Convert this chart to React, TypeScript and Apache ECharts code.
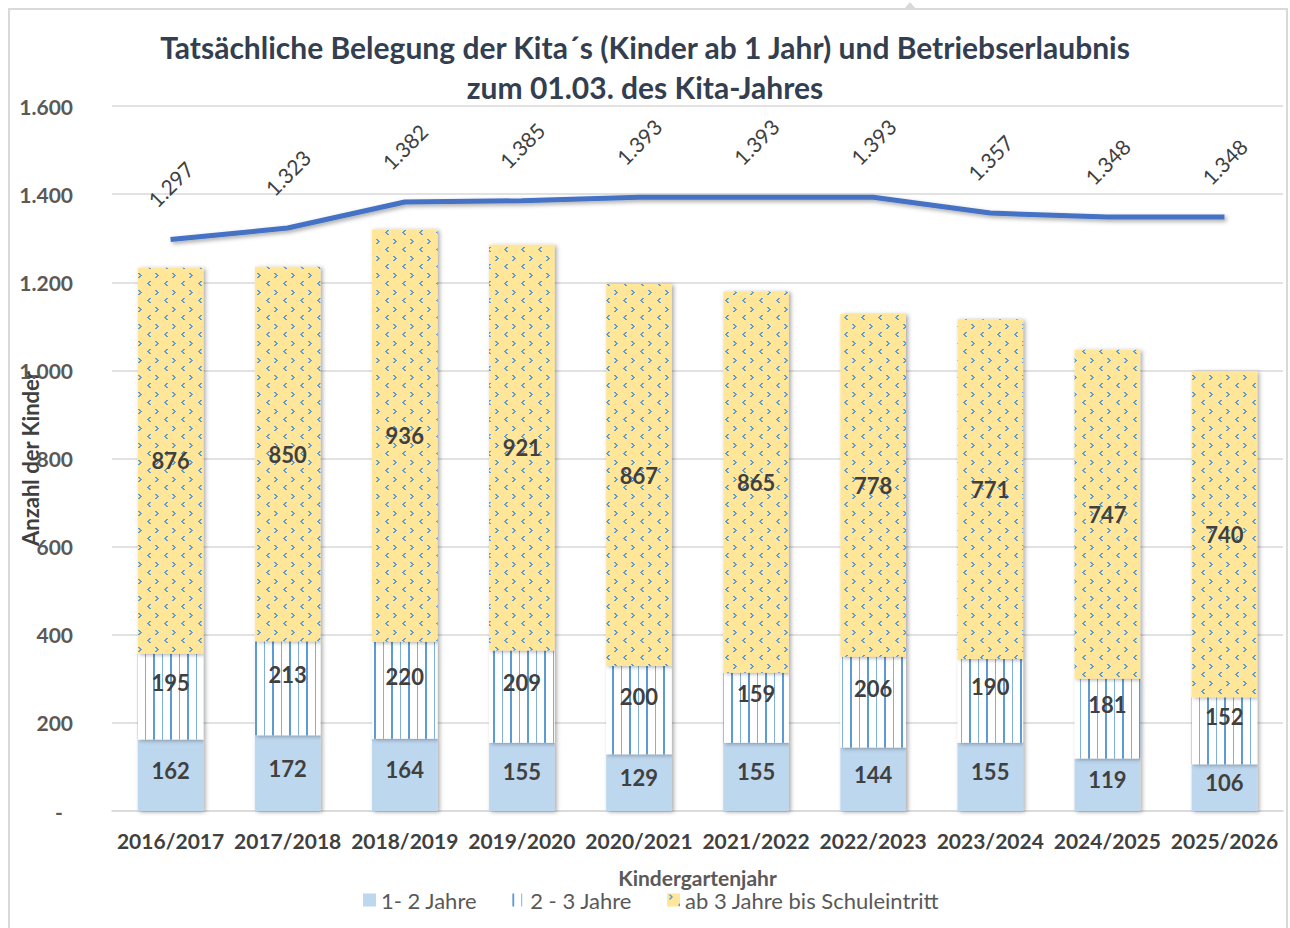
import React, { useEffect, useRef } from "react";
import * as echarts from "echarts";

const categories = [
  "2016/2017", "2017/2018", "2018/2019", "2019/2020", "2020/2021",
  "2021/2022", "2022/2023", "2023/2024", "2024/2025", "2025/2026",
];
const einsBisZwei = [162, 172, 164, 155, 129, 155, 144, 155, 119, 106];
const zweiBisDrei = [195, 213, 220, 209, 200, 159, 206, 190, 181, 152];
const abDrei = [876, 850, 936, 921, 867, 865, 778, 771, 747, 740];
const betriebserlaubnis = [1297, 1323, 1382, 1385, 1393, 1393, 1393, 1357, 1348, 1348];
const seriesNames = ["1- 2 Jahre", "2 - 3 Jahre", "ab 3 Jahre bis Schuleintritt", "Betriebserlaubnis"];
const titleText = "Tatsächliche Belegung der Kita´s (Kinder ab 1 Jahr) und Betriebserlaubnis\nzum 01.03. des Kita-Jahres";

const FONT = "Lato";

const fmt = (v: number) => String(v).replace(/\B(?=(\d{3})+(?!\d))/g, ".");

function verticalPattern() {
  const c = document.createElement("canvas");
  c.width = 17;
  c.height = 8;
  const g = c.getContext("2d")!;
  g.fillStyle = "#ffffff";
  g.fillRect(0, 0, 17, 8);
  g.fillStyle = "#5B9BD5";
  g.fillRect(0, 0, 2, 8);
  g.fillStyle = "#7FB0DE";
  g.fillRect(9, 0, 1, 8);
  return { image: c.toDataURL(), imageWidth: 17, imageHeight: 8, repeat: "repeat" };
}

function divotPattern() {
  const c = document.createElement("canvas");
  c.width = 17;
  c.height = 17;
  const g = c.getContext("2d")!;
  g.fillStyle = "#FFE699";
  g.fillRect(0, 0, 17, 17);
  g.fillStyle = "#5B9BD5";
  // ">" mark
  g.fillRect(2, 1, 2, 1);
  g.fillRect(3, 2, 2, 1);
  g.fillRect(4, 3, 2, 1);
  g.fillRect(3, 4, 2, 1);
  g.fillRect(2, 5, 2, 1);
  // "<" mark
  g.fillRect(13, 9, 2, 1);
  g.fillRect(12, 10, 2, 1);
  g.fillRect(11, 11, 2, 1);
  g.fillRect(12, 12, 2, 1);
  g.fillRect(13, 13, 2, 1);
  return { image: c.toDataURL(), imageWidth: 17, imageHeight: 17, repeat: "repeat" };
}

export default function App() {
  const ref = useRef<HTMLDivElement>(null);
  useEffect(() => {
    const chart = echarts.init(ref.current!, null, { renderer: "svg" });
    const barShadow = {
      shadowColor: "rgba(0,0,0,0.35)",
      shadowBlur: 4,
      shadowOffsetX: 2,
      shadowOffsetY: 1,
    };
    const barLabel = (dy: number) => ({
      show: true,
      position: "inside",
      offset: [0, dy],
      fontFamily: FONT,
      fontWeight: "bold",
      fontSize: 22,
      color: "#404040",
    });
    chart.setOption({
      animation: false,
      textStyle: { fontFamily: FONT },
      title: {
        text: titleText,
        left: "center",
        top: 22,
        textStyle: {
          fontFamily: FONT,
          fontSize: 30,
          fontWeight: "bold",
          color: "#333F50",
          lineHeight: 40,
        },
      },
      graphic: [
        {
          type: "rect",
          silent: true,
          z: -10,
          shape: { x: 9, y: 9, width: 1278, height: 960 },
          style: { fill: "none", stroke: "#D9D9D9", lineWidth: 2 },
        },
        {
          type: "polygon",
          silent: true,
          z: -10,
          shape: { points: [[904, 9], [910, 2], [916, 9]] },
          style: { fill: "#D9D9D9" },
        },
      ],
      legend: {
        data: seriesNames.slice(0, 3),
        left: 358,
        top: 884,
        itemWidth: 13,
        itemHeight: 13,
        itemGap: 35,
        icon: "rect",
        textStyle: { fontFamily: FONT, fontSize: 22, color: "#595959", lineHeight: 18 },
      },
      grid: { left: 112, right: 7, top: 106, bottom: 117, outerBoundsMode: "none", containLabel: false },
      xAxis: {
        type: "category",
        data: categories,
        name: "Kindergartenjahr",
        nameLocation: "middle",
        nameGap: 57,
        nameMoveOverlap: false,
        nameTextStyle: { fontFamily: FONT, fontSize: 21, fontWeight: "bold", color: "#595959", lineHeight: 18 },
        axisLine: { lineStyle: { color: "#D9D9D9", width: 1.5 } },
        axisTick: { show: false },
        axisLabel: {
          interval: 0,
          fontFamily: FONT,
          fontSize: 21,
          fontWeight: "bold",
          color: "#404040",
          margin: 19,
        },
      },
      yAxis: {
        type: "value",
        min: 0,
        max: 1600,
        interval: 200,
        name: "Anzahl der Kinder",
        nameLocation: "middle",
        nameGap: 71,
        nameMoveOverlap: false,
        nameTextStyle: { fontFamily: FONT, fontSize: 22, fontWeight: "bold", color: "#404040" },
        axisLine: { show: false },
        axisTick: { show: false },
        splitLine: { lineStyle: { color: "#D9D9D9", width: 1.5 } },
        axisLabel: {
          fontFamily: FONT,
          fontSize: 21,
          fontWeight: "bold",
          color: "#595959",
          margin: 39,
          formatter: (v: number) => (v === 0 ? "-  " : fmt(v)),
        },
      },
      series: [
        {
          name: seriesNames[0],
          type: "bar",
          stack: "kinder",
          data: einsBisZwei,
          barCategoryGap: "44%",
          itemStyle: { color: "#BDD7EE", ...barShadow },
          label: barLabel(-5),
        },
        {
          name: seriesNames[1],
          type: "bar",
          stack: "kinder",
          data: zweiBisDrei,
          itemStyle: { color: verticalPattern(), ...barShadow },
          label: barLabel(-14),
        },
        {
          name: seriesNames[2],
          type: "bar",
          stack: "kinder",
          data: abDrei,
          itemStyle: { color: divotPattern(), ...barShadow },
          label: barLabel(0),
        },
        {
          name: seriesNames[3],
          type: "line",
          data: betriebserlaubnis,
          symbol: "circle",
          symbolSize: 1,
          showSymbol: true,
          lineStyle: {
            color: "#4472C4",
            width: 5,
            shadowColor: "rgba(0,0,0,0.35)",
            shadowBlur: 4,
            shadowOffsetX: 2,
            shadowOffsetY: 2,
          },
          itemStyle: { color: "rgba(68,114,196,0)" },
          label: {
            show: true,
            position: "top",
            distance: 55,
            rotate: 45,
            align: "center",
            verticalAlign: "middle",
            fontFamily: FONT,
            fontSize: 21,
            color: "#404040",
            formatter: (p: any) => fmt(p.value),
          },
          z: 5,
        },
      ],
    });
    return () => chart.dispose();
  }, []);
  return (
    <div
      ref={ref}
      style={{ position: "fixed", left: 0, top: 0, width: 1290, height: 928, background: "#ffffff" }}
    />
  );
}
